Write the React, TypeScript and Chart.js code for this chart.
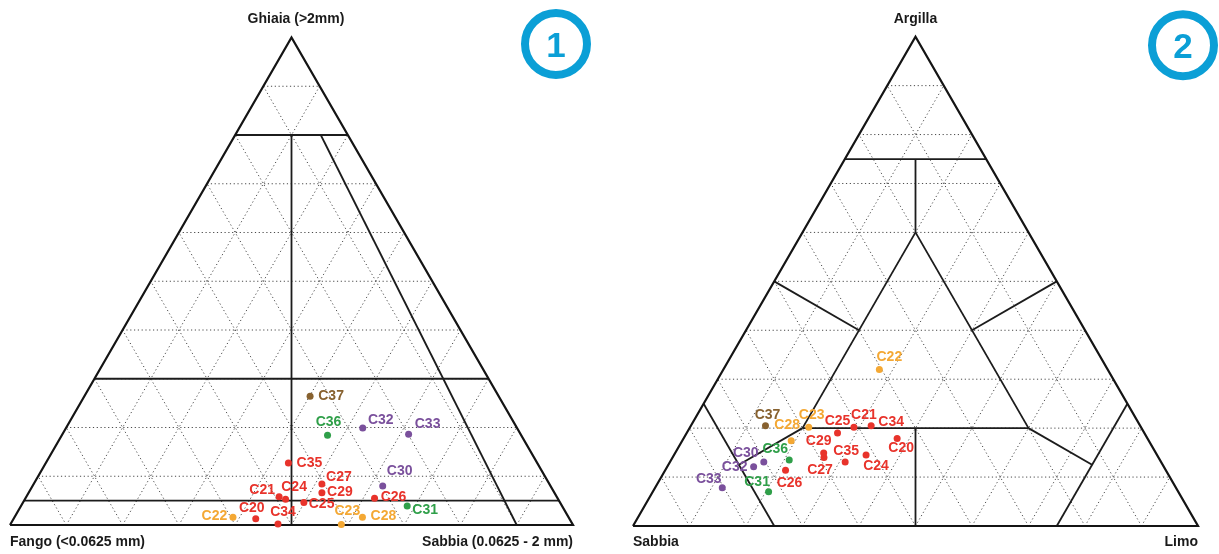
import { useEffect, useRef } from "react";
import { Chart, registerables } from "chart.js";

Chart.register(...registerables);

const SQ = Math.sqrt(3) / 2;

// Campioni
const samples = [
  "C20", "C21", "C22", "C23", "C24", "C25", "C26", "C27", "C28",
  "C29", "C30", "C31", "C32", "C33", "C34", "C35", "C36", "C37",
];

// Diagramma 1 – ghiaia / sabbia / fango (%)
const ghiaia = [1.3, 5.8, 1.6, 0.1, 5.3, 4.6, 5.5, 8.4, 1.6, 6.6, 8.0, 3.9, 19.9, 18.6, 0.2, 12.7, 18.4, 26.4];
const sabbia1 = [43.0, 44.9, 38.8, 58.8, 46.3, 49.9, 62.0, 51.2, 61.8, 52.1, 62.2, 68.6, 52.7, 61.5, 47.5, 43.1, 47.2, 40.1];
const fango = [55.7, 49.3, 59.6, 41.1, 48.4, 45.5, 32.5, 40.4, 36.6, 41.3, 29.8, 27.5, 27.4, 19.9, 52.3, 44.2, 34.4, 33.5];

// Diagramma 2 – argilla / sabbia / limo (%)
const argilla = [17.9, 20.2, 32.0, 20.2, 14.5, 19.0, 11.4, 14.0, 17.4, 14.9, 13.1, 7.0, 12.1, 7.8, 20.5, 13.1, 13.5, 20.5];
const sabbia2 = [44.3, 50.8, 40.4, 58.8, 51.5, 54.3, 67.3, 59.2, 63.3, 58.8, 70.3, 72.5, 72.6, 80.3, 47.6, 55.9, 65.6, 66.3];
const limo = [37.8, 29.0, 27.6, 21.0, 34.0, 26.7, 21.3, 26.8, 19.3, 26.3, 16.6, 20.5, 15.3, 11.9, 31.9, 31.0, 20.9, 13.2];

// Gruppo di appartenenza di ogni campione
const gruppo = ["r", "r", "o", "o", "r", "r", "r", "r", "o", "r", "p", "g", "p", "p", "r", "r", "g", "b"];

const groupColors: Record<string, string> = {
  r: "#e8332b",
  o: "#f4a834",
  g: "#2f9f49",
  p: "#7a509c",
  b: "#87612f",
};

// Posizione delle etichette rispetto al punto (px)
const labelOffset1: [number, number][] = [
  [-4, -11], [-17, -7], [-18.5, -1], [6, -13], [8.5, -12], [17.7, 2],
  [19, -1], [17, -7], [21, -1], [18, -1], [17, -15], [18, 4],
  [18, -8], [19, -10], [5, -12], [21, 0], [1, -13], [21, 0],
];
const labelOffset2: [number, number][] = [
  [4, 10], [10, -12], [10, -12], [3, -12], [10, 11], [0, -12],
  [4, 13], [-4, 13], [-4, -16], [-5, -12], [-18, -9], [-11.5, -10],
  [-19, 0], [-13.5, -9], [20, -4], [1, -11], [-14, -11], [2, -11],
];

type TR = [number, number]; // [vertice superiore %, vertice destro %]

// Limiti di classe – diagramma 1 (ghiaia, sabbia)
const classi1: [TR, TR][] = [
  [[80, 0], [80, 20]],
  [[30, 0], [30, 70]],
  [[5, 0], [5, 95]],
  [[80, 10], [0, 50]],
  [[80, 15.2], [0, 90]],
];

// Limiti di classe – diagramma 2 (argilla, limo)
const classi2: [TR, TR][] = [
  [[75, 0], [75, 25]],
  [[75, 12.5], [60, 20]],
  [[60, 20], [20, 20]],
  [[20, 20], [20, 60]],
  [[20, 60], [60, 20]],
  [[20, 40], [0, 50]],
  [[25, 0], [0, 25]],
  [[25, 75], [0, 75]],
  [[50, 0], [40, 20]],
  [[50, 50], [40, 40]],
  [[20, 20], [12.5, 12.5]],
  [[20, 60], [12.5, 75]],
];

const toXY = (top: number, right: number) => ({ x: right + top / 2, y: top * SQ });

const LABEL_FONT = 'bold 14px "Liberation Sans", Arial, sans-serif';
const TITLE_FONT = 'bold 14px "Liberation Sans", Arial, sans-serif';
const BADGE_BLUE = "#0b9fd6";

const ternaryDecor = {
  id: "ternaryDecor",
  afterDatasetsDraw(chart: any, _args: any, opts: any) {
    const { ctx, chartArea } = chart;
    ctx.save();

    // etichette dei campioni
    const meta = chart.getDatasetMeta(0);
    ctx.font = LABEL_FONT;
    ctx.textAlign = "center";
    ctx.textBaseline = "middle";
    meta.data.forEach((el: any, i: number) => {
      const [dx, dy] = opts.offsets[i];
      ctx.fillStyle = opts.colors[i];
      ctx.fillText(opts.names[i], el.x + dx, el.y + dy);
    });

    // titoli dei vertici
    ctx.fillStyle = "#1a1a1a";
    ctx.font = TITLE_FONT;
    const midX = (chartArea.left + chartArea.right) / 2;
    ctx.textAlign = "center";
    ctx.fillText(opts.top, midX + opts.topDx, chartArea.top - 18);
    const by = chart.height - 12;
    ctx.textAlign = "left";
    ctx.fillText(opts.left, chartArea.left, by);
    ctx.textAlign = "right";
    ctx.fillText(opts.right, chartArea.right, by);

    // numero del diagramma
    const cx = chartArea.right + opts.badgeDx;
    const cy = chartArea.top + opts.badgeDy;
    ctx.beginPath();
    ctx.arc(cx, cy, 31, 0, Math.PI * 2);
    ctx.lineWidth = 8;
    ctx.strokeStyle = BADGE_BLUE;
    ctx.stroke();
    ctx.fillStyle = BADGE_BLUE;
    ctx.font = 'bold 35px "Liberation Sans", Arial, sans-serif';
    ctx.textAlign = "center";
    ctx.textBaseline = "alphabetic";
    ctx.fillText(opts.badge, cx, cy + 13);

    ctx.restore();
  },
};

function segmentDataset(a: TR, b: TR, style: any) {
  return {
    data: [toXY(a[0], a[1]), toXY(b[0], b[1])],
    showLine: true,
    pointRadius: 0,
    fill: false,
    tension: 0,
    clip: false,
    ...style,
  };
}

function gridSegments(): [TR, TR][] {
  const out: [TR, TR][] = [];
  for (let k = 10; k <= 90; k += 10) {
    out.push([[k, 0], [k, 100 - k]]);
    out.push([[0, k], [100 - k, k]]);
    out.push([[0, 100 - k], [100 - k, 0]]);
  }
  return out;
}

function buildConfig(
  tops: number[],
  rights: number[],
  classi: [TR, TR][],
  offsets: [number, number][],
  padding: any,
  decor: any
): any {
  const colors = gruppo.map((g) => groupColors[g]);
  const points = {
    data: tops.map((t, i) => toXY(t, rights[i])),
    pointRadius: 3.5,
    pointBackgroundColor: colors,
    pointBorderWidth: 0,
    showLine: false,
    clip: false,
    order: 0,
  };
  const solid = { borderColor: "#1c1c1c", borderWidth: 1.8, order: 1 };
  const outline = {
    data: [toXY(0, 0), toXY(0, 100), toXY(100, 0), toXY(0, 0)],
    showLine: true,
    pointRadius: 0,
    fill: false,
    clip: false,
    borderColor: "#141414",
    borderWidth: 2.2,
    borderJoinStyle: "miter",
    order: 1,
  };
  const grid = { borderColor: "#4a4a4a", borderWidth: 1, borderDash: [1.2, 2.6], order: 2 };

  return {
    type: "scatter",
    data: {
      datasets: [
        points,
        outline,
        ...classi.map(([a, b]) => segmentDataset(a, b, solid)),
        ...gridSegments().map(([a, b]) => segmentDataset(a, b, grid)),
      ],
    },
    options: {
      responsive: false,
      animation: false,
      events: [],
      layout: { padding },
      scales: {
        x: { type: "linear", min: 0, max: 100, display: false },
        y: { type: "linear", min: 0, max: 100 * SQ, display: false },
      },
      plugins: {
        legend: { display: false },
        tooltip: { enabled: false },
        ternaryDecor: { ...decor, names: samples, colors, offsets },
      },
    },
    plugins: [ternaryDecor],
  };
}

function TernaryChart({ config, left }: { config: () => any; left: number }) {
  const ref = useRef<HTMLCanvasElement | null>(null);
  useEffect(() => {
    if (!ref.current) return;
    const chart = new Chart(ref.current, config());
    return () => chart.destroy();
  }, [config]);
  return (
    <canvas
      ref={ref}
      width={609}
      height={554}
      style={{ position: "absolute", left, top: 0, width: 609, height: 554, display: "block" }}
    />
  );
}

const config1 = () =>
  buildConfig(
    ghiaia,
    sabbia1,
    classi1,
    labelOffset1,
    { left: 10, right: 36, top: 37.5, bottom: 29 },
    {
      top: "Ghiaia (>2mm)",
      topDx: 4.5,
      left: "Fango (<0.0625 mm)",
      right: "Sabbia (0.0625 - 2 mm)",
      badge: "1",
      badgeDx: -17,
      badgeDy: 6.5,
    }
  );

const config2 = () =>
  buildConfig(
    argilla,
    limo,
    classi2,
    labelOffset2,
    { left: 23, right: 21, top: 36.7, bottom: 28 },
    {
      top: "Argilla",
      topDx: 0,
      left: "Sabbia",
      right: "Limo",
      badge: "2",
      badgeDx: -15,
      badgeDy: 8.5,
    }
  );

// le percentuali di fango e sabbia completano le terne dei due diagrammi
void fango;
void sabbia2;

export default function App() {
  return (
    <div
      style={{
        position: "fixed",
        left: 0,
        top: 0,
        width: 1219,
        height: 554,
        background: "#ffffff",
        overflow: "hidden",
      }}
    >
      <TernaryChart config={config1} left={0} />
      <TernaryChart config={config2} left={610} />
    </div>
  );
}
